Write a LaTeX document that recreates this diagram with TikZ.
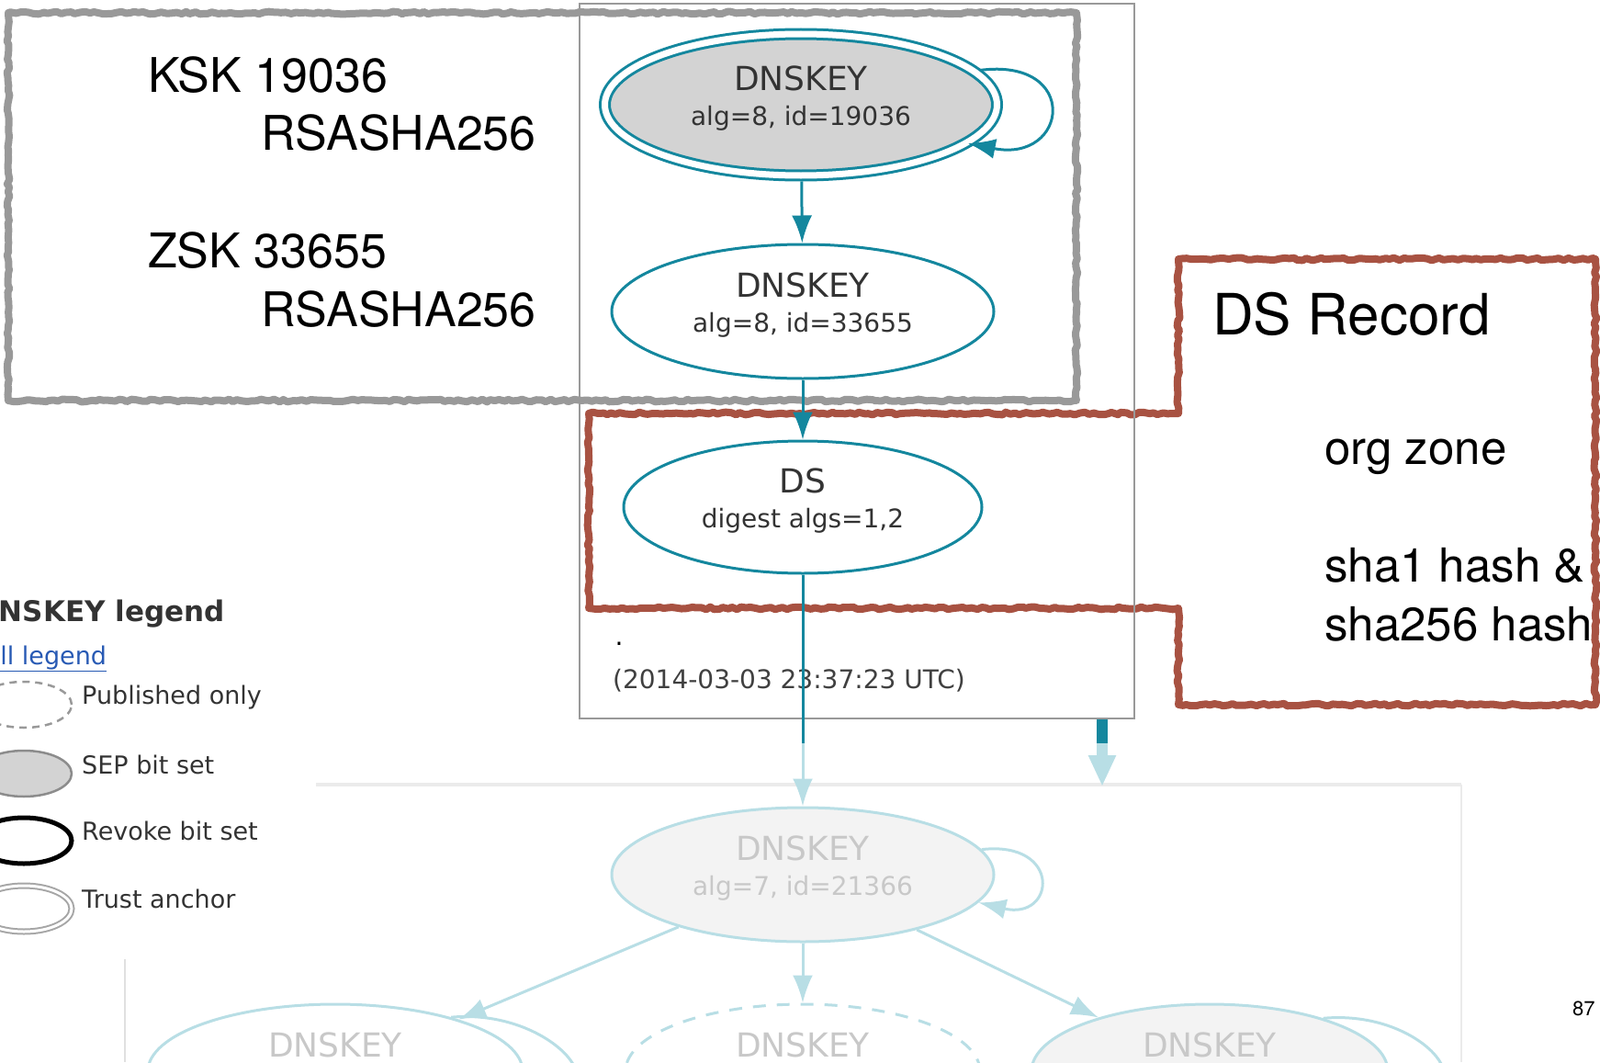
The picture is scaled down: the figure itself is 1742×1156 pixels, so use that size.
\documentclass[tikz,border=0pt]{standalone}
\usepackage{fontspec}
\usepackage{tikz}
\usetikzlibrary{shapes.geometric,arrows.meta,decorations.pathmorphing}
\newfontfamily\annofont{TeX Gyre Heros}
\newfontfamily\vizfont{DejaVu Sans}
\newcommand\keysub{\fontsize{28}{32}\selectfont}
\definecolor{dsteal}{RGB}{20,135,158}
\definecolor{fadeteal}{RGB}{184,222,229}
\definecolor{keygray}{RGB}{211,211,211}
\definecolor{fadefill}{RGB}{243,243,243}
\definecolor{fadetext}{RGB}{200,200,200}
\definecolor{roughgray}{RGB}{153,153,153}
\definecolor{roughred}{RGB}{168,82,66}
\definecolor{linkblue}{RGB}{40,90,180}

\begin{document}
\begin{tikzpicture}[x=1pt,y=-1pt,
	dnskey/.style={ellipse,draw=dsteal,line width=3pt,inner sep=0pt,minimum width=416pt,minimum height=146pt,
		align=center,text depth=19pt,text=black!80,font=\vizfont\fontsize{36}{38}\selectfont},
	link/.style={draw=dsteal,line width=3pt,-{Latex[length=30pt,width=22pt]}},
	fadelink/.style={link,draw=fadeteal},
	rough/.style={line width=8pt,line join=round,decorate,decoration={random steps,segment length=5pt,amplitude=1.4pt}},
	anno/.style={font=\annofont\fontsize{52}{56}\selectfont,anchor=base west,inner sep=0pt},
	legtext/.style={font=\vizfont\fontsize{27}{30}\selectfont,text=black!80,anchor=west,inner sep=0pt},
	legkey/.style={ellipse,minimum width=104pt,minimum height=50pt,inner sep=0pt,line width=2.5pt}]
	\useasboundingbox (0,0) rectangle (1742,1156);
	\clip (0,0) rectangle (1742,1156);

	% callout frames
	\draw[roughgray,rough] (9,14) rectangle (1172,436);
	\draw[roughred,rough] (641,450) -- (1283,450) -- (1283,282) -- (1737,282) -- (1737,767)
		-- (1283,767) -- (1283,662) -- (641,662) -- cycle;

	% callout texts
	\node[anno] (ksktxt) at (161,100) {KSK 19036};
	\node[anno] (kskalg) at (284,163) {RSASHA256};
	\node[anno] (zsktxt) at (161,291) {ZSK 33655};
	\node[anno] (zskalg) at (284,355) {RSASHA256};
	\node[anno,font=\annofont\fontsize{62}{68}\selectfont] (dshead) at (1320,364) {DS Record};
	\node[anno,font=\annofont\fontsize{51}{56}\selectfont] (orgzone) at (1442,505) {org zone};
	\node[anno,font=\annofont\fontsize{51}{56}\selectfont] (hash1) at (1442,633) {sha1 hash \&};
	\node[anno,font=\annofont\fontsize{51}{56}\selectfont] (hash2) at (1442,697) {sha256 hash};
	\node[anno,font=\annofont\fontsize{22}{24}\selectfont] (pgno) at (1712,1105) {87};

	% org zone graph
	\draw[black!40,line width=2pt] (631,4) rectangle (1235,782);
	\node[dnskey,fill=keygray,double=white,double distance=7pt,minimum width=427pt,minimum height=154pt]
		(ksk) at (872,114) {DNSKEY\\{\keysub alg=8, id=19036}};
	\node[dnskey,fill=white] (zsk) at (874,339) {DNSKEY\\{\keysub alg=8, id=33655}};
	\node[dnskey,fill=white,minimum width=390pt,minimum height=144pt] (ds) at (874,552) {DS\\{\keysub digest algs=1,2}};
	\node[anchor=base,inner sep=0pt,font=\vizfont\fontsize{28}{32}\selectfont] (dot) at (674,702) {.};
	\node[anchor=west,inner sep=0pt,text=black!75,font=\vizfont\fontsize{28}{32}\selectfont] (stamp) at (667,741) {(2014-03-03 23:37:23 UTC)};

	\draw[link,shorten <=5pt] (ksk.11) .. controls +(115,-15) and +(110,22) .. (ksk.-13);
	\draw[link,shorten <=5pt] (ksk) -- (zsk);
	\draw[link] (zsk) -- (ds);

	% faded lower part
	\draw[black!8,line width=4pt] (344,854) -- (1591,854);
	\draw[black!8,line width=2pt] (1591,854) -- (1591,1156);
	\draw[black!12,line width=2pt] (136,1044) -- (136,1156);
	\node[dnskey,draw=fadeteal,fill=fadefill,text=fadetext] (fkey) at (874,952) {DNSKEY\\{\keysub alg=7, id=21366}};
	\node[dnskey,draw=fadeteal,fill=white,text=fadetext,minimum width=408pt] (lkey) at (365,1166) {DNSKEY\\{\keysub\strut}};
	\node[dnskey,draw=fadeteal,fill=white,text=fadetext,dashed,dash pattern=on 14pt off 12pt,minimum width=386pt] (mkey) at (874,1166) {DNSKEY\\{\keysub\strut}};
	\node[dnskey,draw=fadeteal,fill=fadefill,text=fadetext,minimum width=388pt] (rkey) at (1317,1166) {DNSKEY\\{\keysub\strut}};

	\coordinate (dscut) at (874,809);
	\draw[dsteal,line width=3pt] (ds) -- (dscut);
	\draw[fadelink] (dscut) -- (fkey);
	\coordinate (barA) at (1200,783);
	\coordinate (barB) at (1200,809);
	\coordinate (barC) at (1200,856);
	\draw[dsteal,line width=12pt] (barA) -- (barB);
	\draw[fadeteal,line width=12pt,-{Triangle[length=34pt,width=28pt]}] (barB) -- (barC);

	\draw[fadelink] (fkey.8) .. controls +(88,-10) and +(84,20) .. (fkey.-9);
	\draw[fadelink] (lkey.25) .. controls +(110,-10) and +(110,10) .. (lkey.-5);
	\draw[fadelink] (rkey.25) .. controls +(110,-10) and +(110,10) .. (rkey.-5);
	\draw[fadelink] (fkey) -- (lkey);
	\draw[fadelink] (fkey) -- (mkey);
	\draw[fadelink] (fkey) -- (rkey);

	% legend
	\node[anchor=west,inner sep=0pt,text=black!80,font=\vizfont\bfseries\fontsize{31}{34}\selectfont] (leghead) at (-27,668) {DNSKEY legend};
	\node[legtext,text=linkblue] (legfull) at (-31,717) {\underline{Full legend}};
	\node[legkey,draw=black!40,dashed,dash pattern=on 8pt off 6pt] (lpub) at (26,767) {};
	\node[legkey,draw=black!45,fill=keygray] (lsep) at (26,842) {};
	\node[legkey,draw=black,line width=5pt] (lrev) at (26,915) {};
	\node[legkey,draw=black!35,double=white,double distance=3pt,line width=2pt] (ltrust) at (26,989) {};
	\node[legtext] (tpub) at (89,759) {Published only};
	\node[legtext] (tsep) at (89,832) {SEP bit set};
	\node[legtext] (trev) at (89,904) {Revoke bit set};
	\node[legtext] (ttrust) at (89,978) {Trust anchor};
\end{tikzpicture}
\end{document}
